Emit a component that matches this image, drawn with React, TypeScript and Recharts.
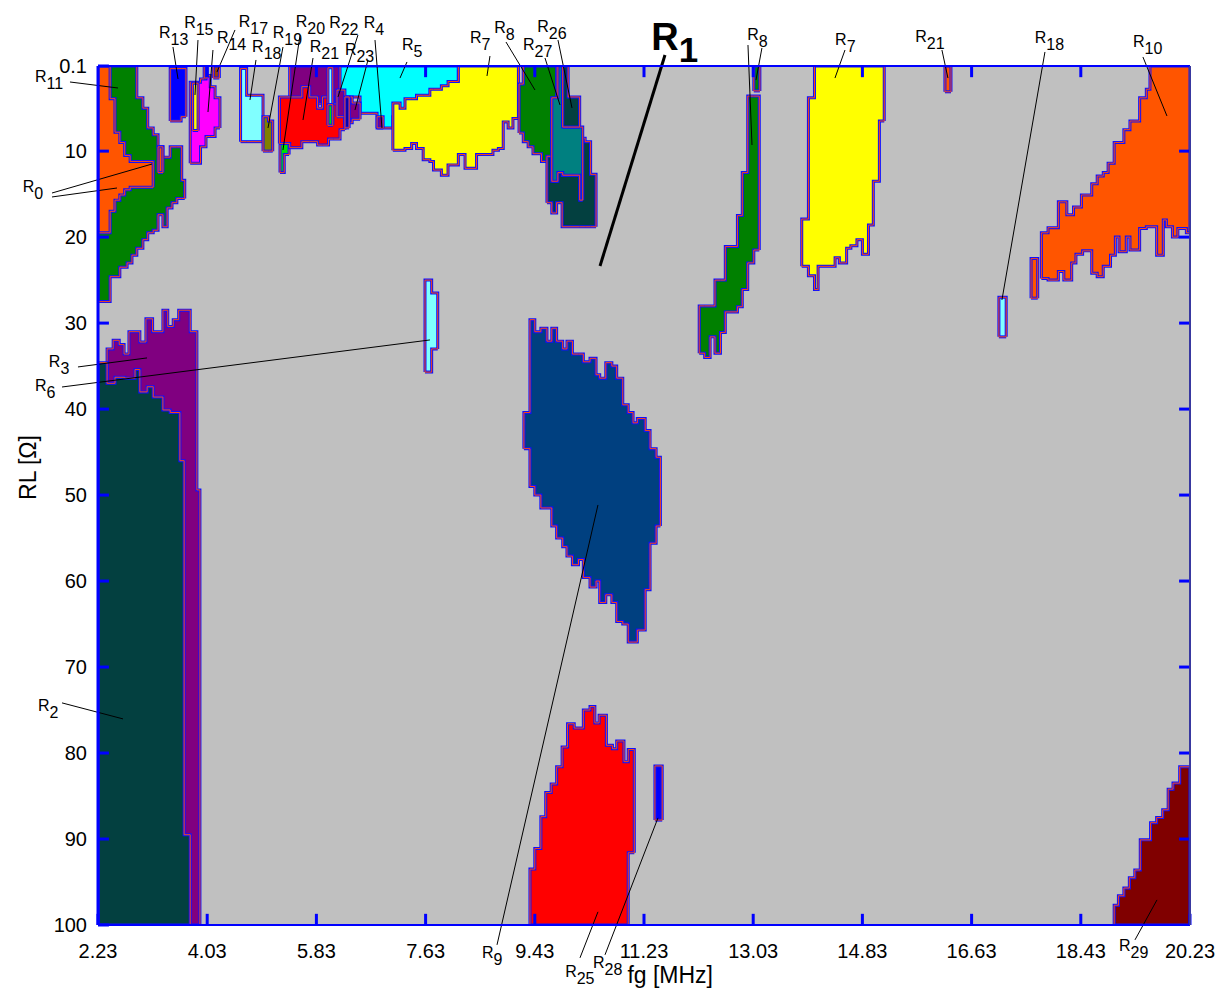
import React from "react";
import { ComposedChart, Area, XAxis, YAxis, CartesianGrid, ReferenceLine, ReferenceDot } from "recharts";

// axis ticks
const FG_TICKS = [2.23, 4.03, 5.83, 7.63, 9.43, 11.23, 13.03, 14.83, 16.63, 18.43, 20.23];
const RL_TICKS = [0.1, 10, 20, 30, 40, 50, 60, 70, 80, 90, 100];
const FG_RANGE = [2.23, 20.23];
const RL_RANGE = [0.1, 100];

// regions: columns [fg start, RL top, RL bottom], last entry is [fg end]
const R3 = [[2.38, 33, 100], [2.48, 32, 100], [2.58, 32.5, 100], [2.66, 33.6, 100], [2.74, 31, 100], [2.92, 32.2, 100], [3.02, 29.5, 100], [3.13, 31, 100], [3.3, 28.5, 100], [3.38, 30.4, 100], [3.47, 29.6, 100], [3.56, 28.5, 100], [3.75, 31, 100], [3.86, 49.4, 100], [3.91]];
const R2 = [[2.23, 34.6, 100], [2.38, 37, 100], [2.51, 36.3, 100], [2.67, 36.4, 100], [2.84, 35.4, 100], [2.92, 38, 100], [3.04, 37.4, 100], [3.14, 38.6, 100], [3.3, 40.1, 100], [3.42, 40.4, 100], [3.58, 46, 100], [3.65, 89.5, 100], [3.75]];
const R11 = [[2.23, 0.1, 27.5], [2.43, 0.1, 24.6], [2.59, 0.1, 23.5], [2.71, 0.1, 23], [2.79, 0.1, 22.1], [2.87, 3.8, 21.3], [2.97, 5, 20.3], [3.05, 7.3, 19.5], [3.14, 8.1, 19.2], [3.22, 9.5, 17.4], [3.3, 10.7, 18.8], [3.37, 10.7, 16.6], [3.42, 9.5, 16.6], [3.45, 9.5, 16], [3.53, 9.5, 15.5], [3.61, 13.4, 15.5], [3.66]];
const R0 = [[2.23, 0.1, 19.5], [2.43, 3.9, 17], [2.51, 7.8, 15.7], [2.59, 9, 15.1], [2.67, 10.5, 14.5], [2.76, 11.2, 14.2], [3.14]];
const R0_BAR = [[3.22, 9.5, 12.5], [3.3]];
const R13 = [[3.42, 0.4, 6.5], [3.6, 0.4, 6.0], [3.68]];
const R14 = [[3.75, 2.0, 11.4], [3.92, 1.6, 9.5], [4.01, 1.2, 8.3], [4.08, 2.5, 8.3], [4.16, 3.8, 7.3], [4.24]];
const R15 = [[3.79, 2.1, 7.6], [3.88]];
const BLUE_TIP = [[3.98, 0.1, 1.5], [4.03]];
const R17 = [[4.13, 0.1, 1.5], [4.23]];
const R18A = [[4.58, 0.4, 8.9], [4.68, 3.5, 8.9], [4.95]];
const R19 = [[4.95, 6, 10], [5.04, 6.5, 10], [5.11]];
const R20 = [[5.23, 9.1, 12.5], [5.3, 9.1, 10.4], [5.38]];
const R20_TOP = [[5.39, 0.1, 4.5], [6.22]];
const R21A = [[5.22, 3.7, 9.1], [5.39, 3.7, 9.6], [5.59, 2.5, 8.9], [5.72, 3.7, 8.9], [5.85, 5.0, 9.3], [5.93, 3.7, 9.3], [6.03, 3.7, 8.6], [6.11, 4.5, 8.6], [6.22, 4.5, 7.5], [6.3]];
const R22 = [[6.02, 0.3, 4.6], [6.1]];
const R22_LOW = [[6.02, 4.6, 7.0], [6.1]];
const R5 = [[6.22, 0.1, 3.7], [6.55, 0.1, 5.6], [6.83, 0.1, 7.3], [7.09, 0.1, 6.0], [8.17]];
const R23 = [[6.17, 2.9, 6.0], [6.3, 3.7, 6.7], [6.42, 4.4, 6.3], [6.55]];
const R23_BAR = [[6.3, 3.7, 7.3], [6.37]];
const R4 = [[6.83, 6.0, 7.3], [6.93]];
const R7A = [[7.09, 4.4, 9.9], [7.21, 5.0, 9.9], [7.29, 3.9, 9.7], [7.4, 3.9, 9.1], [7.48, 3.5, 9.7], [7.59, 3.5, 11], [7.7, 2.8, 11.2], [7.76, 2.8, 12.2], [7.89, 2.4, 12.8], [8.0, 1.9, 11.6], [8.17, 0.1, 10.4], [8.28, 0.1, 12], [8.47, 0.1, 10.4], [8.74, 0.1, 9.9], [8.83, 0.1, 9.7], [8.91, 0.1, 6.6], [8.99, 0.1, 7.3], [9.07, 0.1, 6.2], [9.16]];
const R8A = [[9.17, 2.2, 7.9], [9.24, 0.1, 8.9], [9.32, 0.1, 9.5], [9.4, 0.1, 10.3], [9.54, 0.1, 11.2], [9.71, 0.1, 3.9], [9.79]];
const R26_LOW = [[9.63, 10.6, 16], [9.71, 13.5, 17.2], [9.79, 12.5, 16], [9.88, 12.8, 18.8], [10.17, 8.5, 18.8], [10.26, 8.9, 18.8], [10.35, 12.7, 18.8], [10.44]];
const R27 = [[9.71, 3.8, 13.5], [9.81, 0.1, 12.5], [9.89, 7.2, 12.8], [10.17, 7.2, 15.7], [10.22]];
const R26_TOP = [[9.89, 0.1, 7.2], [9.98, 3.7, 7.2], [10.17]];
const R6 = [[7.62, 25, 35.7], [7.73, 26.5, 33], [7.83]];
const R9 = [[9.25, 40.4, 44.6], [9.35, 29.6, 49], [9.43, 31, 50], [9.53, 30.6, 51.5], [9.63, 32.1, 51.5], [9.71, 30.6, 53.6], [9.79, 32.1, 55], [9.89, 33, 56], [9.96, 32.1, 57.1], [10.05, 33.6, 58.1], [10.15, 33.6, 57.5], [10.23, 34.5, 59.6], [10.34, 34.1, 60.7], [10.44, 36, 60], [10.5, 36.4, 62.5], [10.6, 34.6, 61.6], [10.7, 35, 62.5], [10.78, 36.4, 64.7], [10.88, 39.5, 65], [10.97, 40.4, 67.1], [11.05, 41.6, 67.1], [11.12, 41.1, 65.7], [11.25, 42.5, 61], [11.33, 44.6, 55.6], [11.43, 45.6, 53.6], [11.5]];
const R25 = [[9.35, 93.5, 100], [9.43, 91.1, 100], [9.53, 87.4, 100], [9.61, 84.6, 100], [9.7, 83.6, 100], [9.79, 81.6, 100], [9.88, 79.3, 100], [9.97, 76.6, 100], [10.08, 77.1, 100], [10.23, 75, 100], [10.34, 74.6, 100], [10.42, 76.5, 100], [10.49, 75.6, 100], [10.61, 79.1, 100], [10.71, 79.5, 100], [10.78, 78.6, 100], [10.9, 81, 100], [10.97, 79.6, 91.6], [11.07]];
const R28 = [[11.41, 81.5, 87.8], [11.53]];
const R8B_TOP = [[13.04, 0.1, 3.0], [13.14]];
const R8B = [[12.14, 28, 33.5], [12.23, 28, 34], [12.32, 28, 31.6], [12.4, 25, 33.5], [12.49, 25, 31.1], [12.57, 21.1, 28.7], [12.77, 17.5, 28.1], [12.85, 12.5, 26.1], [12.94, 3.6, 23], [13.04, 3.6, 21.5], [13.13]];
const R7B = [[13.83, 17.9, 23.4], [13.94, 3.8, 24.5], [14.04, 0.1, 26.1], [14.1, 0.1, 23.4], [14.38, 0.1, 22.4], [14.45, 0.1, 23], [14.57, 0.1, 21.3], [14.64, 0.1, 21], [14.74, 0.1, 20.3], [14.83, 0.1, 22], [14.93, 0.1, 18.6], [15.01, 0.1, 13.5], [15.11, 0.1, 6.5], [15.19]];
const R21B = [[16.19, 0.1, 3.1], [16.29]];
const R18B = [[17.08, 27, 31.6], [17.2]];
const R10_BAR = [[17.61, 22.5, 27.1], [17.72]];
const R10 = [[17.78, 19.5, 24.8], [17.89, 18.9, 25], [18.06, 15.9, 24], [18.15, 15.9, 25], [18.2, 17.4, 25], [18.28, 17.4, 23], [18.31, 16.5, 23], [18.35, 16.5, 22], [18.44, 15.1, 22], [18.46, 15.1, 21.6], [18.61, 13.8, 24.2], [18.7, 12.9, 24.6], [18.8, 12.5, 23.4], [18.88, 11.4, 23.4], [18.92, 11.4, 22.1], [18.98, 9, 22.1], [19.0, 9, 20], [19.06, 9, 21.7], [19.14, 7.5, 21.7], [19.18, 7.5, 20], [19.24, 6.5, 21.5], [19.4, 3.8, 19], [19.51, 2.8, 18.8], [19.57, 0.1, 18.8], [19.68, 0.1, 22.1], [19.79, 0.1, 18], [19.84, 0.1, 18.8], [19.94, 0.1, 20], [20.03, 0.1, 19], [20.17, 0.1, 19.5], [20.23]];
const R29 = [[18.98, 97.7, 100], [19.05, 96.6, 100], [19.14, 95.7, 100], [19.23, 94.5, 100], [19.32, 93.6, 100], [19.41, 90.1, 100], [19.58, 88.1, 100], [19.68, 87.5, 100], [19.78, 86.6, 100], [19.87, 84.2, 100], [19.95, 83.5, 100], [20.06, 81.6, 100], [20.23]];

// region labels: [subscript, fg, RL] (fg/RL of the R baseline-left)
const LABELS: [string, number, number][] = [
  ["11", 1.19, 1.96], ["0", 0.99, 14.75], ["13", 3.235, -3.16], ["15", 3.65, -4.32], ["14", 4.19, -2.57],
  ["17", 4.55, -4.43], ["18", 4.77, -1.53], ["19", 5.11, -3.16], ["20", 5.49, -4.43], ["21", 5.72, -1.53],
  ["22", 6.04, -4.3], ["23", 6.3, -1.2], ["4", 6.61, -4.32], ["5", 7.24, -1.76], ["7", 8.36, -2.57],
  ["8", 8.76, -3.74], ["27", 9.235, -1.76], ["26", 9.47, -3.85], ["8", 12.93, -2.92], ["7", 14.38, -2.34],
  ["21", 15.7, -2.69], ["18", 17.67, -2.57], ["10", 19.29, -2.11], ["3", 1.42, 35.1], ["6", 1.19, 37.9],
  ["2", 1.24, 75.1], ["9", 8.56, 103.8], ["25", 9.93, 106.1], ["28", 10.39, 105.0], ["29", 19.06, 103.0],
];
const MAIN_LABEL: [string, number, number] = ["1", 11.35, -1.76];

// leader lines: [fg1, RL1, fg2, RL2]
const LEADERS = [
  [1.768, 1.96, 2.56, 2.66], [1.472, 14.87, 3.12, 11.5], [1.472, 15.33, 2.543, 14.29],
  [3.466, -2.11, 3.549, 1.61], [3.878, -2.92, 3.829, 3.47], [4.125, -1.76, 4.043, 5.45],
  [4.488, -4.09, 4.191, 0.8], [4.834, -0.6, 4.735, 4.05], [5.279, -2.11, 5.032, 7.31],
  [5.56, -3.5, 5.279, 9.87], [5.774, -0.83, 5.609, 6.38], [6.515, -3.5, 6.186, 3.7],
  [6.68, -0.6, 6.466, 5.22], [6.796, -2.92, 6.911, 7.31], [7.323, -0.37, 7.208, 1.5],
  [8.691, -1.06, 8.642, 1.26], [8.955, -2.69, 9.433, 2.89], [9.598, -0.83, 9.845, 4.63],
  [9.812, -2.92, 10.043, 4.98], [12.944, -2.34, 13.01, 9.29], [13.174, -1.99, 13.076, 1.73],
  [14.543, -1.76, 14.378, 1.5], [16.141, -1.76, 16.24, 1.5], [17.839, -1.53, 17.13, 27.31],
  [19.454, -0.95, 19.85, 5.91], [1.9, 35.1, 3.038, 34.05], [1.637, 37.43, 7.702, 31.96],
  [1.637, 74.17, 2.642, 76.03], [8.807, 102.31, 10.471, 51.15], [10.175, 103.82, 10.471, 98.47],
  [10.587, 103.47, 11.461, 87.54], [19.323, 101.73, 19.686, 97.08],
];
const MAIN_LEADER = [11.576, -1.18, 10.505, 23.36];

const FONT = "'Liberation Sans', Arial, sans-serif";
const TICK_FG = 0.18; // inward tick length in MHz
const TICK_RL = 1.3; // inward tick length in ohm

const REGIONS = [
  { id: "R3", cols: R3, fill: "#800080" },
  { id: "R2", cols: R2, fill: "#034040" },
  { id: "R11", cols: R11, fill: "#008000" },
  { id: "R0", cols: R0, fill: "#ff5500" },
  { id: "R0b", cols: R0_BAR, fill: "#ff5500" },
  { id: "R13", cols: R13, fill: "#0000ff" },
  { id: "R14", cols: R14, fill: "#ff00ff" },
  { id: "R15", cols: R15, fill: "#ffff00" },
  { id: "Rtip", cols: BLUE_TIP, fill: "#0000ff" },
  { id: "R17", cols: R17, fill: "#a04000" },
  { id: "R18a", cols: R18A, fill: "#80ffff" },
  { id: "R19", cols: R19, fill: "#808000" },
  { id: "R20", cols: R20, fill: "#00e000" },
  { id: "R20t", cols: R20_TOP, fill: "#800080" },
  { id: "R21a", cols: R21A, fill: "#ff0000" },
  { id: "R22", cols: R22, fill: "#80ffff" },
  { id: "R22l", cols: R22_LOW, fill: "#00e000" },
  { id: "R5", cols: R5, fill: "#00ffff" },
  { id: "R23", cols: R23, fill: "#800080" },
  { id: "R23b", cols: R23_BAR, fill: "#000080" },
  { id: "R4", cols: R4, fill: "#800080" },
  { id: "R7a", cols: R7A, fill: "#ffff00" },
  { id: "R8a", cols: R8A, fill: "#008000" },
  { id: "R26l", cols: R26_LOW, fill: "#034040" },
  { id: "R27", cols: R27, fill: "#008080" },
  { id: "R26t", cols: R26_TOP, fill: "#034040" },
  { id: "R6", cols: R6, fill: "#80ffff" },
  { id: "R9", cols: R9, fill: "#004080" },
  { id: "R25", cols: R25, fill: "#ff0000" },
  { id: "R28", cols: R28, fill: "#0000ff" },
  { id: "R8bt", cols: R8B_TOP, fill: "#008000" },
  { id: "R8b", cols: R8B, fill: "#008000" },
  { id: "R7b", cols: R7B, fill: "#ffff00" },
  { id: "R21b", cols: R21B, fill: "#ff5500" },
  { id: "R18b", cols: R18B, fill: "#80ffff" },
  { id: "R10b", cols: R10_BAR, fill: "#ff5500" },
  { id: "R10", cols: R10, fill: "#ff5500" },
  { id: "R29", cols: R29, fill: "#800000" },
];

// turn columns into a closed step outline (range area)
function buildSeries(cols: number[][]) {
  const body = cols.slice(0, -1);
  const end = cols[cols.length - 1][0];
  const first = body[0];
  const last = body[body.length - 1];
  const pts: { fg: number; rl: number[] }[] = [{ fg: first[0], rl: [first[2], first[2]] }];
  body.forEach(([fg, top, bottom]) => pts.push({ fg, rl: [bottom, top] }));
  pts.push({ fg: end, rl: [last[2], last[2]] });
  return pts;
}

// inward tick marks on all four sides (drawn above the regions)
const tickSegments = [
  ...FG_TICKS.map((f) => [f, RL_RANGE[1], f, RL_RANGE[1] - TICK_RL]),
  ...FG_TICKS.slice(1, -1).map((f) => [f, RL_RANGE[0], f, RL_RANGE[0] + TICK_RL]),
  ...RL_TICKS.map((r) => [FG_RANGE[0], r, FG_RANGE[0] + TICK_FG, r]),
  ...RL_TICKS.slice(1, -1).map((r) => [FG_RANGE[1], r, FG_RANGE[1] - TICK_FG, r]),
];

const RTag = (props: any) => {
  const { viewBox, sub, big } = props;
  const x = viewBox.x + viewBox.width / 2;
  const y = viewBox.y + viewBox.height / 2;
  return (
    <text x={x} y={y} fontFamily={FONT} fontSize={big ? 38 : 16} fontWeight={big ? 700 : 400} fill="#000">
      R
      <tspan dy={big ? 12 : 7} fontSize={big ? 35 : 16}>{sub}</tspan>
    </text>
  );
};

const XTitle = (props: any) => {
  const vb = props.viewBox;
  return (
    <text x={vb.x + vb.width * 0.524} y={vb.y + 58} textAnchor="middle" fontFamily={FONT} fontSize={23} fill="#000">
      fg [MHz]
    </text>
  );
};

const YTitle = (props: any) => {
  const vb = props.viewBox;
  const cx = vb.x + 30;
  const cy = vb.y + vb.height / 2 - 28;
  return (
    <text x={cx} y={cy} transform={`rotate(-90, ${cx}, ${cy})`} textAnchor="middle" dominantBaseline="middle" fontFamily={FONT} fontSize={23} fill="#000">
      RL [Ω]
    </text>
  );
};

const frameSeries = buildSeries(R29);

export default function App() {
  return (
    <div style={{ position: "absolute", left: 0, top: 0, width: 1218, height: 991, background: "#fff" }}>
      <ComposedChart width={1218} height={991} margin={{ top: 65, right: 27, bottom: 36, left: 0 }}>
        <CartesianGrid horizontal={false} vertical={false} fill="#c0c0c0" />
        <XAxis
          dataKey="fg"
          type="number"
          domain={FG_RANGE}
          ticks={FG_TICKS}
          interval={0}
          allowDataOverflow
          height={30}
          tickLine={false}
          tickMargin={13}
          axisLine={{ stroke: "#0000ff", strokeWidth: 2 }}
          tick={{ fontSize: 20, fill: "#000", fontFamily: FONT }}
          label={<XTitle />}
        />
        <XAxis
          xAxisId="top"
          orientation="top"
          dataKey="fg"
          type="number"
          domain={FG_RANGE}
          allowDataOverflow
          height={1}
          tick={false}
          tickLine={false}
          axisLine={{ stroke: "#0000ff", strokeWidth: 2 }}
        />
        <YAxis
          type="number"
          domain={RL_RANGE}
          reversed
          ticks={RL_TICKS}
          interval={0}
          allowDataOverflow
          width={98}
          tickLine={false}
          tickMargin={5}
          axisLine={{ stroke: "#0000ff", strokeWidth: 3 }}
          tick={{ fontSize: 20, fill: "#000", fontFamily: FONT }}
          label={<YTitle />}
        />
        <YAxis
          yAxisId="right"
          orientation="right"
          type="number"
          domain={RL_RANGE}
          reversed
          allowDataOverflow
          width={1}
          tick={false}
          tickLine={false}
          axisLine={{ stroke: "#3838a0", strokeWidth: 2 }}
        />
        {/* invisible series that ties the top and right frame axes to data */}
        <Area xAxisId="top" yAxisId="right" data={frameSeries} dataKey="rl" type="stepAfter" fill="none" stroke="none"
          dot={false} activeDot={false} isAnimationActive={false} />
        {REGIONS.flatMap((r) => {
          const d = buildSeries(r.cols);
          return [
            <Area key={r.id + "-f"} data={d} dataKey="rl" type="stepAfter" fill={r.fill} fillOpacity={1}
              stroke="#1010ff" strokeWidth={3} dot={false} activeDot={false} isAnimationActive={false} />,
            <Area key={r.id + "-o"} data={d} dataKey="rl" type="stepAfter" fill="none"
              stroke="#ff4a10" strokeWidth={1} dot={false} activeDot={false} isAnimationActive={false} />,
          ];
        })}
        {tickSegments.map((t, i) => (
          <ReferenceLine key={"tk" + i} segment={[{ x: t[0], y: t[1] }, { x: t[2], y: t[3] }]}
            stroke="#0000ff" strokeWidth={3} ifOverflow="visible" />
        ))}
        {LEADERS.map((l, i) => (
          <ReferenceLine key={"ld" + i} segment={[{ x: l[0], y: l[1] }, { x: l[2], y: l[3] }]}
            stroke="#000" strokeWidth={1} ifOverflow="visible" />
        ))}
        <ReferenceLine segment={[{ x: MAIN_LEADER[0], y: MAIN_LEADER[1] }, { x: MAIN_LEADER[2], y: MAIN_LEADER[3] }]}
          stroke="#000" strokeWidth={3} ifOverflow="visible" />
        {LABELS.map((l, i) => (
          <ReferenceDot key={"lb" + i} x={l[1]} y={l[2]} r={1} fill="none" stroke="none" ifOverflow="visible"
            label={<RTag sub={l[0]} />} />
        ))}
        <ReferenceDot x={MAIN_LABEL[1]} y={MAIN_LABEL[2]} r={1} fill="none" stroke="none" ifOverflow="visible"
          label={<RTag sub={MAIN_LABEL[0]} big />} />
      </ComposedChart>
    </div>
  );
}
